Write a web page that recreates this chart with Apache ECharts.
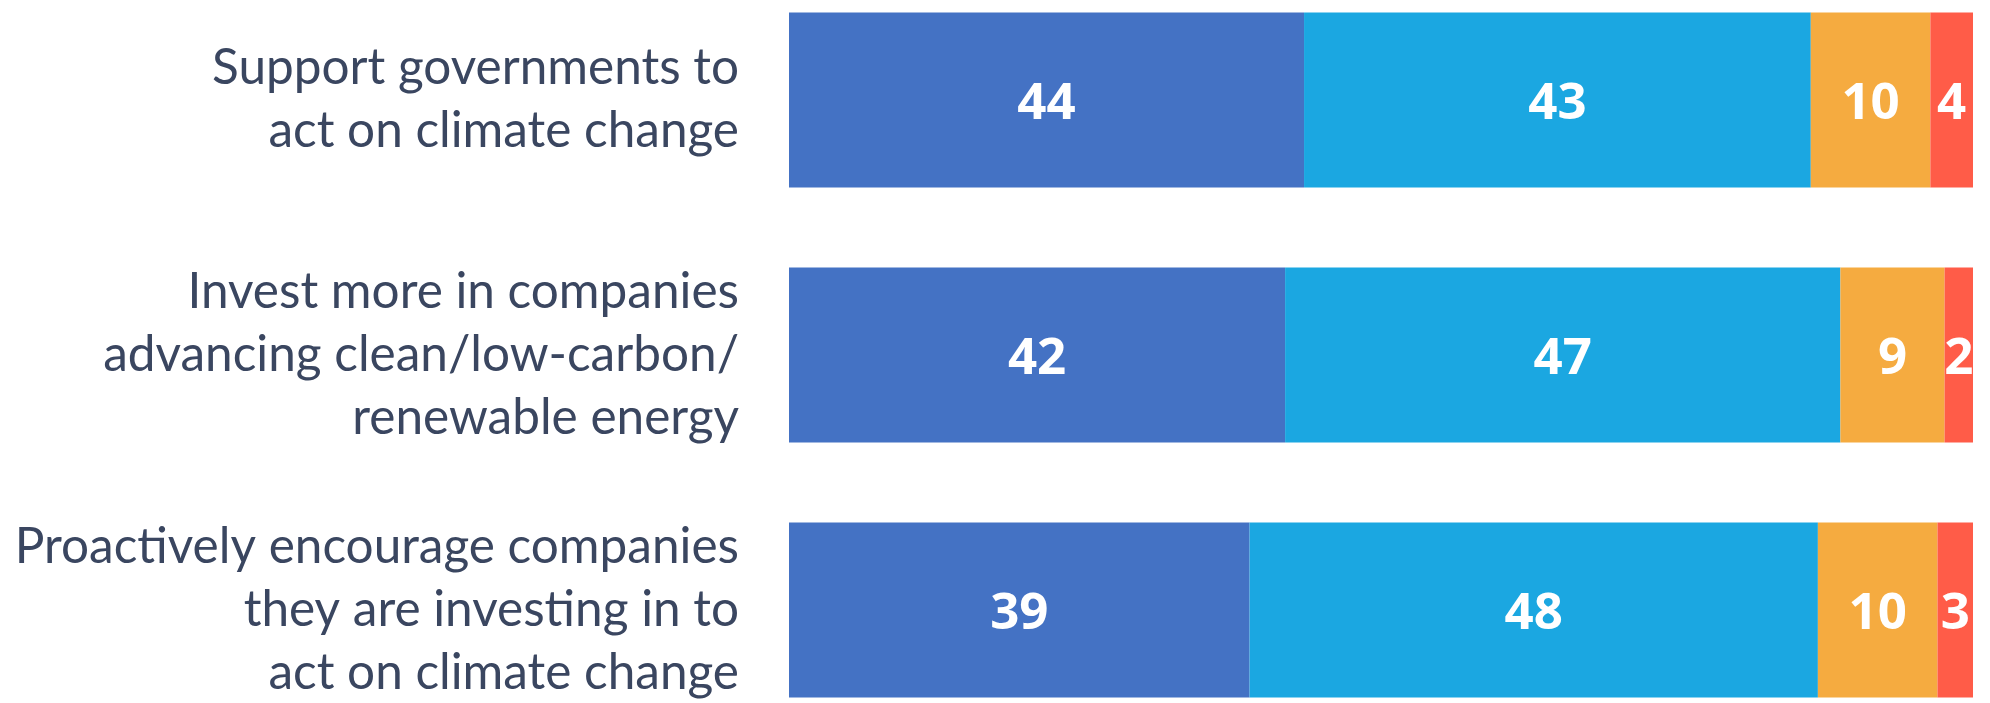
<!DOCTYPE html>
<html>
<head>
<meta charset="utf-8">
<script src="https://cdn.jsdelivr.net/npm/echarts@6/dist/echarts.min.js"></script>
<style>
  html, body { margin: 0; padding: 0; background: #fff; }
  #chart { width: 1990px; height: 703px; }
</style>
</head>
<body>
<div id="chart"></div>
<script>
// rows, top to bottom
var categories = [
    'Support governments to\nact on climate change',
    'Invest more in companies\nadvancing clean/low-carbon/\nrenewable energy',
    'Proactively encourage companies\nthey are investing in to\nact on climate change'
];
// shares (labels show rounded values)
var seriesA = [43.5, 41.9, 38.9];
var seriesB = [42.8, 46.9, 48.0];
var seriesC = [10.1, 8.8, 10.1];
var seriesD = [3.6, 2.4, 3.0];

var colors = ['#4472c4', '#1ba7e1', '#f5ab40', '#ff5c48'];

var myChart = echarts.init(document.getElementById('chart'));

function fnSeries(name, data, color) {
    return {
        name: name,
        type: 'bar',
        stack: 'total',
        barWidth: 175,
        clip: false,
        data: data,
        itemStyle: { color: color },
        label: {
            show: true,
            position: 'inside',
            offset: [0, 4],
            color: '#fff',
            fontFamily: 'Open Sans',
            fontWeight: 'bold',
            fontSize: 51,
            formatter: function (p) { return Math.round(p.value); }
        }
    };
}

var option = {
    animation: false,
    // categories sit on the tick points, so top/bottom are the outer bar centres
    grid: { left: 789, right: 17, top: 100, bottom: 93, outerBoundsMode: 'none', containLabel: false },
    xAxis: {
        type: 'value',
        min: 0,
        max: 100,
        show: false
    },
    yAxis: {
        type: 'category',
        inverse: true,
        boundaryGap: false,
        data: categories,
        axisLine: { show: false },
        axisTick: { show: false },
        splitLine: { show: false },
        axisLabel: {
            margin: 50,
            color: '#3a4660',
            fontFamily: 'Lato',
            fontSize: 49.5,
            lineHeight: 63,
            padding: [14, 0, 0, 0],
            align: 'right'
        }
    },
    series: [
        fnSeries('a', seriesA, colors[0]),
        fnSeries('b', seriesB, colors[1]),
        fnSeries('c', seriesC, colors[2]),
        fnSeries('d', seriesD, colors[3])
    ]
};
myChart.setOption(option);
</script>
</body>
</html>
